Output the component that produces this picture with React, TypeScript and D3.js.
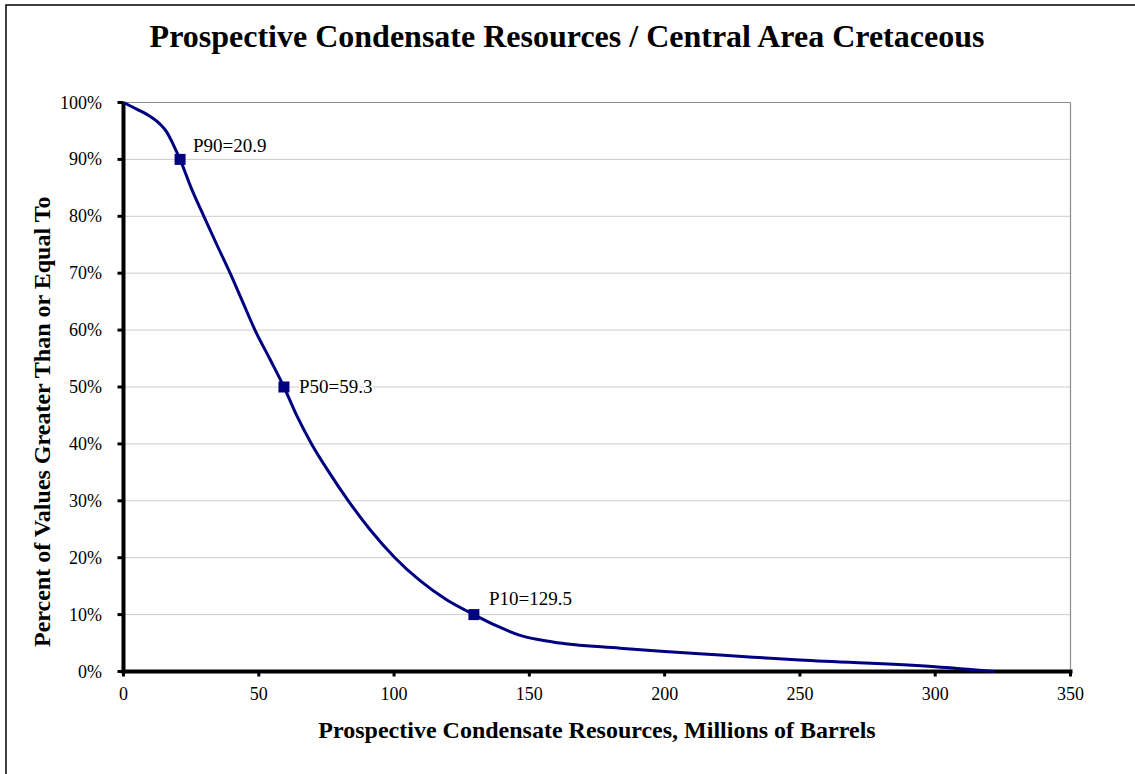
import React from "react";
import * as d3 from "d3";

// значения
const resources = [0, 5, 10, 13.5, 16, 18.7, 20.9, 25, 29.7, 34.5, 39.4, 44, 48.6, 54, 59.3, 64, 69.5, 76, 83.1, 91, 100.3, 109.5, 119.4, 129.5, 138, 146.3, 158.7, 183.5, 200, 220.5, 250, 300, 322];
const percents = [100, 98.8, 97.5, 96.2, 94.8, 92.3, 90, 85, 80, 75, 70, 65, 60, 55, 50, 45, 40, 35, 30, 25, 20, 16.0, 12.6, 10, 8, 6.4, 5.2, 4.1, 3.5, 2.9, 2.0, 0.85, 0];

const markerNames = ["P90=20.9", "P50=59.3", "P10=129.5"];
const markerX = [20.9, 59.3, 129.5];
const markerY = [90, 50, 10];

const xTicks = [0, 50, 100, 150, 200, 250, 300, 350];
const yTicks = [0, 10, 20, 30, 40, 50, 60, 70, 80, 90, 100];

const W = 1135;
const H = 774;
const margin = { top: 102.5, right: 64.5, bottom: 102.5, left: 123.5 };
const font = "'Liberation Serif', 'Times New Roman', serif";
const navy = "#000080";

export default function App() {
	const x = d3.scaleLinear().domain([0, 350]).range([margin.left, W - margin.right]);
	const y = d3.scaleLinear().domain([0, 100]).range([H - margin.bottom, margin.top]);

	const pts = resources.map((r, i) => [r, percents[i]] as [number, number]);
	const line = d3
		.line<[number, number]>()
		.x((d) => x(d[0]))
		.y((d) => y(d[1]))
		.curve(d3.curveMonotoneX);

	const x0 = x(0);
	const x1 = x(350);
	const y0 = y(0);
	const y1 = y(100);

	// смещения подписей
	const labelDx = [13, 15, 15];
	const labelDy = [-7, 6, -10];

	return (
		<svg width={W} height={H} style={{ position: "absolute", left: 0, top: 0, background: "#fff" }}>
			<rect x={6} y={5} width={W} height={H} fill="#fff" stroke="#000" strokeWidth={1.5} />
			<text x={567} y={47} textAnchor="middle" fontFamily={font} fontWeight="bold" fontSize={32}>
				Prospective Condensate Resources / Central Area Cretaceous
			</text>

			{/* сетка */}
			{yTicks.slice(1, -1).map((t) => (
				<line key={"g" + t} x1={x0} x2={x1} y1={y(t)} y2={y(t)} stroke="#9a9a9a" strokeWidth={1} strokeDasharray="1,1" />
			))}
			<line x1={x0} x2={x1} y1={y1} y2={y1} stroke="#8c8c8c" strokeWidth={1.2} />
			<line x1={x1} x2={x1} y1={y1} y2={y0} stroke="#8c8c8c" strokeWidth={1.2} />

			{/* оси */}
			<line x1={x0} x2={x0} y1={y1} y2={y0 + 2} stroke="#000" strokeWidth={4} />
			<line x1={x0 - 2} x2={x1 + 2} y1={y0} y2={y0} stroke="#000" strokeWidth={4} />
			{yTicks.map((t) => (
				<g key={"y" + t}>
					<line x1={x0 - 6} x2={x0} y1={y(t)} y2={y(t)} stroke="#000" strokeWidth={3} />
					<text x={102} y={y(t) + 6} textAnchor="end" fontFamily={font} fontSize={18}>
						{t + "%"}
					</text>
				</g>
			))}
			{xTicks.map((t) => (
				<g key={"x" + t}>
					<line x1={x(t)} x2={x(t)} y1={y0} y2={y0 + 5} stroke="#000" strokeWidth={3} />
					<text x={x(t)} y={700} textAnchor="middle" fontFamily={font} fontSize={18}>
						{t}
					</text>
				</g>
			))}

			<text x={(x0 + x1) / 2} y={738} textAnchor="middle" fontFamily={font} fontWeight="bold" fontSize={24}>
				Prospective Condensate Resources, Millions of Barrels
			</text>
			<text
				transform={`translate(50, 647) rotate(-90)`}
				textAnchor="start"
				fontFamily={font}
				fontWeight="bold"
				fontSize={24}
			>
				Percent of Values Greater Than or Equal To
			</text>

			<path d={line(pts) || ""} fill="none" stroke={navy} strokeWidth={3} />

			{markerX.map((mx, i) => (
				<g key={markerNames[i]}>
					<rect x={x(mx) - 5.5} y={y(markerY[i]) - 5.5} width={11} height={11} fill={navy} />
					<text
						x={x(mx) + labelDx[i]}
						y={y(markerY[i]) + labelDy[i]}
						fontFamily={font}
						fontSize={19}
						stroke="#fff"
						strokeWidth={4}
						paintOrder="stroke"
					>
						{markerNames[i]}
					</text>
				</g>
			))}
		</svg>
	);
}
